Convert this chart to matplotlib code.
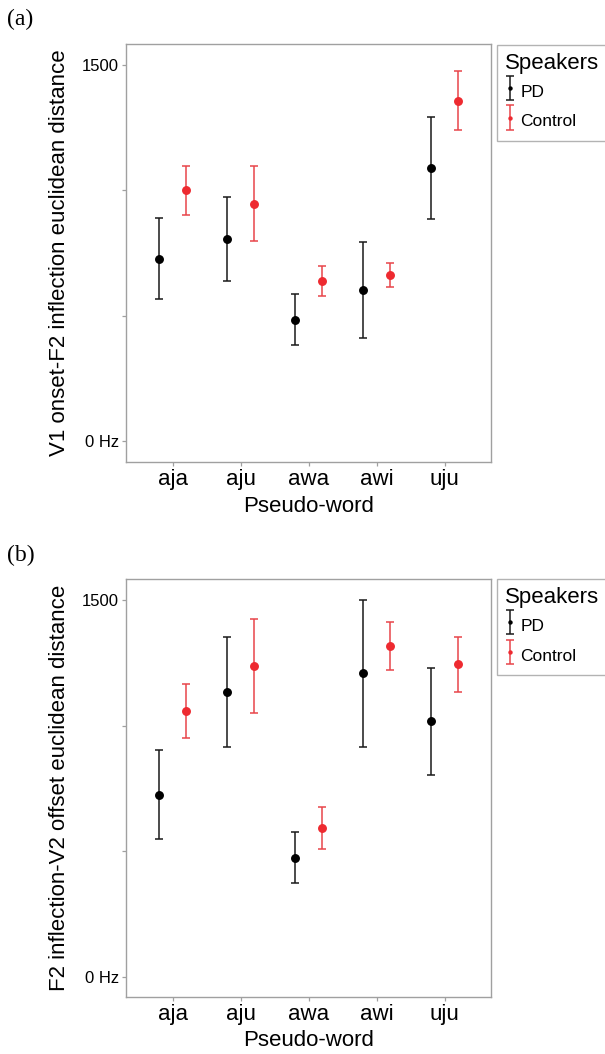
import matplotlib
matplotlib.use("Agg")
import matplotlib.pyplot as plt
from matplotlib.legend_handler import HandlerErrorbar
from matplotlib.container import ErrorbarContainer
import numpy as np

plt.rcParams['font.family'] = ['Liberation Sans', 'DejaVu Sans']

words = ["aja", "aju", "awa", "awi", "uju"]
speakers = ["PD", "Control"]

# Panel (a): V1 onset - F2 inflection
a_pd_mean = [727, 806, 483, 601, 1089]
a_pd_low = [566, 638, 383, 411, 884]
a_pd_high = [888, 975, 585, 792, 1292]
a_ct_mean = [1000, 945, 638, 661, 1357]
a_ct_low = [901, 796, 578, 613, 1239]
a_ct_high = [1098, 1096, 697, 711, 1478]

# Panel (b): F2 inflection - V2 offset
b_pd_mean = [725, 1134, 474, 1208, 1017]
b_pd_low = [550, 915, 372, 915, 803]
b_pd_high = [902, 1354, 576, 1501, 1231]
b_ct_mean = [1057, 1237, 592, 1317, 1244]
b_ct_low = [949, 1050, 510, 1223, 1135]
b_ct_high = [1164, 1426, 675, 1413, 1354]

ylabels = ["V1 onset-F2 inflection euclidean distance",
           "F2 inflection-V2 offset euclidean distance"]
panel_tags = ["(a)", "(b)"]
yticks = [0, 500, 1000, 1500]
yticklabels = ["0 Hz", "", "", "1500"]

W, H = 605, 1054
fig = plt.figure(figsize=(W / 100, H / 100), dpi=100)

def px_axes(x0, y0, x1, y1):
    return [x0 / W, 1 - y1 / H, (x1 - x0) / W, (y1 - y0) / H]

BLACK = "#000000"
BLACK_ERR = "#1a1a1a"
RED = "#EE2A30"
RED_ERR = "#E8454A"
GRAY = "#A0A0A0"

panels = [
    (px_axes(126, 44, 490.7, 462.3), (-85, 1584),
     (a_pd_mean, a_pd_low, a_pd_high, a_ct_mean, a_ct_low, a_ct_high), 0.982, 0.9575),
    (px_axes(126, 579.3, 490.7, 996.7), (-80, 1583),
     (b_pd_mean, b_pd_low, b_pd_high, b_ct_mean, b_ct_low, b_ct_high), 0.4734, 0.4504),
]

x = np.arange(1, len(words) + 1)
dodge = 0.2

for i, (rect, ylim, data, tag_y, leg_top) in enumerate(panels):
    ax = fig.add_axes(rect)
    pd_m, pd_l, pd_h, ct_m, ct_l, ct_h = [np.array(d, dtype=float) for d in data]
    h1 = ax.errorbar(x - dodge, pd_m, yerr=[pd_m - pd_l, pd_h - pd_m], fmt='o',
                     color=BLACK, ecolor=BLACK_ERR, elinewidth=1.1, capsize=3.2,
                     capthick=1.1, markersize=5.4, label=speakers[0])
    h2 = ax.errorbar(x + dodge, ct_m, yerr=[ct_m - ct_l, ct_h - ct_m], fmt='o',
                     color=RED, ecolor=RED_ERR, elinewidth=1.1, capsize=3.2,
                     capthick=1.1, markersize=5.4, label=speakers[1])
    ax.set_xlim(0.31, 5.68)
    ax.set_ylim(*ylim)
    ax.set_xticks(x)
    ax.set_xticklabels(words, fontsize=16)
    ax.set_yticks(yticks)
    ax.set_yticklabels(yticklabels, fontsize=12)
    ax.tick_params(axis='both', colors=GRAY, length=3, width=0.9)
    for lab in ax.get_xticklabels() + ax.get_yticklabels():
        lab.set_color("black")
    ax.tick_params(axis='x', pad=2)
    ax.tick_params(axis='y', pad=2)
    for sp in ax.spines.values():
        sp.set_color(GRAY)
        sp.set_linewidth(1.0)
    ax.set_xlabel("Pseudo-word", fontsize=16, labelpad=4)
    ax.set_ylabel(ylabels[i], fontsize=16, labelpad=9)
    fig.text(7 / W, tag_y, panel_tags[i], fontsize=17, family='Liberation Serif',
             va='center', ha='left')
    leg = fig.legend(handles=[h1, h2], labels=speakers, title="Speakers",
                     loc='upper left', bbox_to_anchor=(497 / W, leg_top),
                     frameon=True, fancybox=False, edgecolor=GRAY,
                     fontsize=12.5, title_fontsize=16, markerscale=0.4,
                     handlelength=0.6, handleheight=1.8, handletextpad=0.3,
                     borderpad=0.45, labelspacing=0.3, borderaxespad=0,
                     alignment='left',
                     handler_map={ErrorbarContainer: HandlerErrorbar(xerr_size=0.5, yerr_size=0.7)})
    leg.get_frame().set_linewidth(1.0)

fig.savefig("out.png", dpi=100)
